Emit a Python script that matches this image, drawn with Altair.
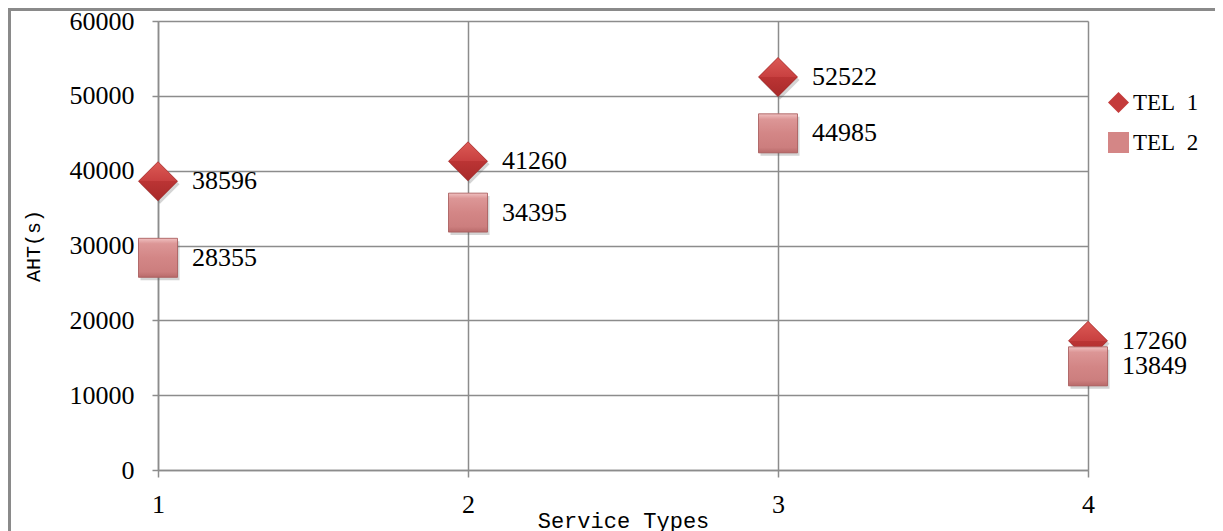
import altair as alt
import pandas as pd

service_types = [1, 2, 3, 4]
tel1 = [38596, 41260, 52522, 17260]
tel2 = [28355, 34395, 44985, 13849]
series_names = ["TEL 1", "TEL 2"]
y_ticks = [0, 10000, 20000, 30000, 40000, 50000, 60000]

df = pd.DataFrame({
    "type": service_types * 2,
    "series": [series_names[0]] * 4 + [series_names[1]] * 4,
    "value": tel1 + tel2,
})

SERIF = "Liberation Serif"
MONO = "Liberation Mono"
GRID = "#8c8c8c"

x_enc = alt.X("type:Q",
              scale=alt.Scale(domain=[1, 4], nice=False, zero=False),
              axis=alt.Axis(values=service_types, format="d", title="Service Types",
                            grid=True, gridColor=GRID, gridWidth=1.5,
                            domainColor=GRID, domainWidth=1.5,
                            tickColor=GRID, tickWidth=1.5, tickSize=7,
                            labelFont=SERIF, labelFontSize=26, labelColor="#000",
                            labelPadding=14, labelFlush=False,
                            titleFont=MONO, titleFontSize=22, titleFontWeight="normal",
                            titleColor="#000", titleBaseline="alphabetic", titleY=57))
y_enc = alt.Y("value:Q",
              scale=alt.Scale(domain=[0, 60000], nice=False),
              axis=alt.Axis(values=y_ticks, format="d", title="AHT(s)",
                            grid=True, gridColor=GRID, gridWidth=1.5,
                            domainColor=GRID, domainWidth=1.5,
                            tickColor=GRID, tickWidth=1.5, tickSize=6,
                            labelFont=SERIF, labelFontSize=26, labelColor="#000",
                            labelPadding=18, labelFlush=False,
                            titleFont=MONO, titleFontSize=20, titleFontWeight="normal",
                            titleColor="#000", titleX=-125, titleY=224.5,
                            titleAlign="center", titleBaseline="middle", titleAngle=270))

base = alt.Chart(df)

one = alt.Chart(pd.DataFrame({"a": [0]}))
frame_left = one.mark_rule(color="#8a8a8a", strokeWidth=3).encode(
    x=alt.value(-148.5), y=alt.value(-12.5), y2=alt.value(520))
frame_top = one.mark_rule(color="#8a8a8a", strokeWidth=3).encode(
    x=alt.value(-150), x2=alt.value(1064), y=alt.value(-11.5))
frame_right = one.mark_rule(color="#c8c8c8", strokeWidth=1.5).encode(
    x=alt.value(1063.5), y=alt.value(-12), y2=alt.value(520))

shadow_d = base.transform_filter(alt.datum.series == series_names[0]).mark_point(
    shape="diamond", filled=True, size=1521, color="#555", opacity=0.25,
    xOffset=2, yOffset=3).encode(x=x_enc, y=y_enc)
shadow_s = base.transform_filter(alt.datum.series == series_names[1]).mark_point(
    shape="square", filled=True, size=1521, color="#555", opacity=0.25,
    xOffset=2, yOffset=3).encode(x=x_enc, y=y_enc)

leg = alt.Legend(title=None, orient="none", legendX=949, legendY=70,
                 labelFont=SERIF, labelFontSize=23, labelColor="#000",
                 labelLimit=200,
                 symbolSize=441, symbolStrokeWidth=0,
                 labelOffset=3, rowPadding=16,
                 labelExpr="replace(datum.label, ' ', '\u00a0\u00a0')")

legend_pts = base.mark_point(filled=True, size=1521, opacity=1).encode(
    x=x_enc, y=y_enc,
    color=alt.Color("series:N",
                    scale=alt.Scale(domain=series_names, range=["#c43b3b", "#d48686"]),
                    legend=leg),
    shape=alt.Shape("series:N",
                    scale=alt.Scale(domain=series_names, range=["diamond", "square"]),
                    legend=leg),
)

diamond_grad = {"gradient": "linear", "x1": 0, "x2": 0, "y1": 0, "y2": 1,
                "stops": [{"offset": 0, "color": "#dc5a55"},
                          {"offset": 0.5, "color": "#c84040"},
                          {"offset": 0.5, "color": "#bb3434"},
                          {"offset": 1, "color": "#a82a2a"}]}
square_grad = {"gradient": "linear", "x1": 0, "x2": 0, "y1": 0, "y2": 1,
               "stops": [{"offset": 0, "color": "#f0c0c0"},
                         {"offset": 0.14, "color": "#dc9696"},
                         {"offset": 0.5, "color": "#d38686"},
                         {"offset": 0.86, "color": "#cc7e7e"},
                         {"offset": 1, "color": "#b86a6a"}]}

dia = base.transform_filter(alt.datum.series == series_names[0]).mark_point(
    shape="diamond", filled=True, size=1521, fill=diamond_grad, opacity=1,
    stroke="#9a2a2a", strokeWidth=0.6).encode(x=x_enc, y=y_enc)
sq = base.transform_filter(alt.datum.series == series_names[1]).mark_point(
    shape="square", filled=True, size=1521, fill=square_grad, opacity=1,
    stroke="#a65c5c", strokeWidth=0.8).encode(x=x_enc, y=y_enc)

labels = base.mark_text(align="left", baseline="middle", dx=34, font=SERIF,
                        fontSize=26, color="#000").encode(
    x=x_enc, y=y_enc, text=alt.Text("value:Q", format="d"))

chart = alt.layer(frame_left, frame_top, frame_right, shadow_d, shadow_s, legend_pts, dia, sq, labels).properties(
    width=930, height=449,
    padding={"left": 150, "top": 13, "right": 127, "bottom": 61},
    autosize=alt.AutoSizeParams(type="none"),
    background="white",
).configure_view(stroke=None)

chart.save("out.html", embed_options={"renderer": "svg", "actions": False})
